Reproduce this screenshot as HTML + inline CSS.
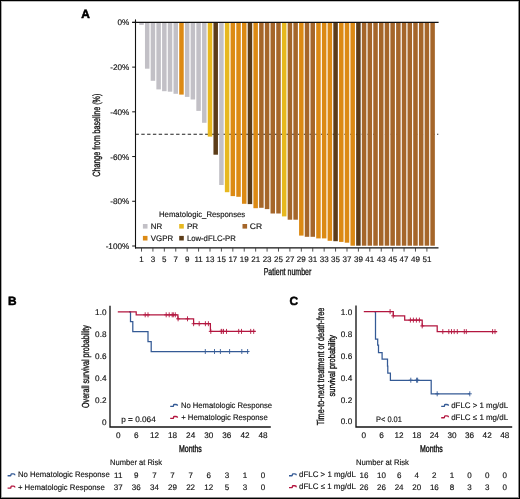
<!DOCTYPE html>
<html><head><meta charset="utf-8"><title>Figure</title>
<style>
html,body{margin:0;padding:0;background:#fff;}
body{width:520px;height:499px;overflow:hidden;}
svg{display:block;font-family:"Liberation Sans", sans-serif;}
.t{filter:grayscale(1);text-rendering:geometricPrecision;}
</style></head><body>
<svg width="520" height="499" viewBox="0 0 520 499">
<rect x="0" y="0" width="520" height="499" fill="#fff"/>
<line x1="135.5" y1="134.2" x2="438.3" y2="134.2" stroke="#222" stroke-width="1.05" stroke-dasharray="3.4 2.4"/>
<rect x="139.25" y="22.40" width="4.5" height="2.50" fill="#c2c0c6"/>
<rect x="144.96" y="22.40" width="4.5" height="46.30" fill="#c2c0c6"/>
<rect x="150.67" y="22.40" width="4.5" height="58.40" fill="#c2c0c6"/>
<rect x="156.37" y="22.40" width="4.5" height="67.00" fill="#c2c0c6"/>
<rect x="162.08" y="22.40" width="4.5" height="68.80" fill="#c2c0c6"/>
<rect x="167.79" y="22.40" width="4.5" height="69.30" fill="#c2c0c6"/>
<rect x="173.50" y="22.40" width="4.5" height="71.40" fill="#c2c0c6"/>
<rect x="179.21" y="22.40" width="4.5" height="72.20" fill="#dc8a14"/>
<rect x="184.91" y="22.40" width="4.5" height="74.50" fill="#c2c0c6"/>
<rect x="190.62" y="22.40" width="4.5" height="77.10" fill="#c2c0c6"/>
<rect x="196.33" y="22.40" width="4.5" height="88.50" fill="#c2c0c6"/>
<rect x="202.04" y="22.40" width="4.5" height="100.40" fill="#c2c0c6"/>
<rect x="207.75" y="22.40" width="4.5" height="114.20" fill="#e7b81f"/>
<rect x="213.45" y="22.40" width="4.5" height="132.30" fill="#5c3c18"/>
<rect x="219.16" y="22.40" width="4.5" height="162.60" fill="#c2c0c6"/>
<rect x="224.87" y="22.40" width="4.5" height="169.80" fill="#e7b81f"/>
<rect x="230.58" y="22.40" width="4.5" height="173.70" fill="#dc8a14"/>
<rect x="236.29" y="22.40" width="4.5" height="174.40" fill="#dc8a14"/>
<rect x="241.99" y="22.40" width="4.5" height="181.40" fill="#dc8a14"/>
<rect x="247.70" y="22.40" width="4.5" height="181.70" fill="#5c3c18"/>
<rect x="253.41" y="22.40" width="4.5" height="185.80" fill="#dc8a14"/>
<rect x="259.12" y="22.40" width="4.5" height="185.40" fill="#a5662a"/>
<rect x="264.83" y="22.40" width="4.5" height="186.70" fill="#a5662a"/>
<rect x="270.53" y="22.40" width="4.5" height="191.10" fill="#a5662a"/>
<rect x="276.24" y="22.40" width="4.5" height="191.10" fill="#a5662a"/>
<rect x="281.95" y="22.40" width="4.5" height="194.00" fill="#e7b81f"/>
<rect x="287.66" y="22.40" width="4.5" height="197.30" fill="#a5662a"/>
<rect x="293.37" y="22.40" width="4.5" height="197.30" fill="#a5662a"/>
<rect x="299.07" y="22.40" width="4.5" height="213.20" fill="#dc8a14"/>
<rect x="304.78" y="22.40" width="4.5" height="214.40" fill="#a5662a"/>
<rect x="310.49" y="22.40" width="4.5" height="214.40" fill="#a5662a"/>
<rect x="316.20" y="22.40" width="4.5" height="216.00" fill="#dc8a14"/>
<rect x="321.91" y="22.40" width="4.5" height="216.00" fill="#dc8a14"/>
<rect x="327.61" y="22.40" width="4.5" height="218.40" fill="#dc8a14"/>
<rect x="333.32" y="22.40" width="4.5" height="218.80" fill="#5c3c18"/>
<rect x="339.03" y="22.40" width="4.5" height="219.50" fill="#dc8a14"/>
<rect x="344.74" y="22.40" width="4.5" height="220.30" fill="#dc8a14"/>
<rect x="350.45" y="22.40" width="4.5" height="223.30" fill="#dc8a14"/>
<rect x="356.15" y="22.40" width="4.5" height="223.30" fill="#5c3c18"/>
<rect x="361.86" y="22.40" width="4.5" height="223.30" fill="#a5662a"/>
<rect x="367.57" y="22.40" width="4.5" height="223.30" fill="#a5662a"/>
<rect x="373.28" y="22.40" width="4.5" height="223.30" fill="#a5662a"/>
<rect x="378.99" y="22.40" width="4.5" height="223.30" fill="#a5662a"/>
<rect x="384.69" y="22.40" width="4.5" height="223.30" fill="#a5662a"/>
<rect x="390.40" y="22.40" width="4.5" height="223.30" fill="#a5662a"/>
<rect x="396.11" y="22.40" width="4.5" height="223.30" fill="#a5662a"/>
<rect x="401.82" y="22.40" width="4.5" height="223.30" fill="#a5662a"/>
<rect x="407.53" y="22.40" width="4.5" height="223.30" fill="#a5662a"/>
<rect x="413.23" y="22.40" width="4.5" height="223.30" fill="#a5662a"/>
<rect x="418.94" y="22.40" width="4.5" height="223.30" fill="#a5662a"/>
<rect x="424.65" y="22.40" width="4.5" height="223.30" fill="#a5662a"/>
<rect x="430.36" y="22.40" width="4.5" height="223.30" fill="#a5662a"/>
<line x1="132.2" y1="22.4" x2="438.6" y2="22.4" stroke="#111" stroke-width="1.1"/>
<line x1="135.5" y1="19.4" x2="135.5" y2="248.5" stroke="#111" stroke-width="1.1"/>
<line x1="135" y1="247.9" x2="438.5" y2="247.9" stroke="#111" stroke-width="1.3"/>
<line x1="132.2" y1="22.40" x2="135.5" y2="22.40" stroke="#111" stroke-width="1"/>
<line x1="132.2" y1="67.12" x2="135.5" y2="67.12" stroke="#111" stroke-width="1"/>
<line x1="132.2" y1="111.84" x2="135.5" y2="111.84" stroke="#111" stroke-width="1"/>
<line x1="132.2" y1="156.56" x2="135.5" y2="156.56" stroke="#111" stroke-width="1"/>
<line x1="132.2" y1="201.28" x2="135.5" y2="201.28" stroke="#111" stroke-width="1"/>
<line x1="132.2" y1="246.00" x2="135.5" y2="246.00" stroke="#111" stroke-width="1"/>
<line x1="141.50" y1="248" x2="141.50" y2="251.6" stroke="#333" stroke-width="0.85"/>
<line x1="152.92" y1="248" x2="152.92" y2="251.6" stroke="#333" stroke-width="0.85"/>
<line x1="164.33" y1="248" x2="164.33" y2="251.6" stroke="#333" stroke-width="0.85"/>
<line x1="175.75" y1="248" x2="175.75" y2="251.6" stroke="#333" stroke-width="0.85"/>
<line x1="187.16" y1="248" x2="187.16" y2="251.6" stroke="#333" stroke-width="0.85"/>
<line x1="198.58" y1="248" x2="198.58" y2="251.6" stroke="#333" stroke-width="0.85"/>
<line x1="210.00" y1="248" x2="210.00" y2="251.6" stroke="#333" stroke-width="0.85"/>
<line x1="221.41" y1="248" x2="221.41" y2="251.6" stroke="#333" stroke-width="0.85"/>
<line x1="232.83" y1="248" x2="232.83" y2="251.6" stroke="#333" stroke-width="0.85"/>
<line x1="244.24" y1="248" x2="244.24" y2="251.6" stroke="#333" stroke-width="0.85"/>
<line x1="255.66" y1="248" x2="255.66" y2="251.6" stroke="#333" stroke-width="0.85"/>
<line x1="267.08" y1="248" x2="267.08" y2="251.6" stroke="#333" stroke-width="0.85"/>
<line x1="278.49" y1="248" x2="278.49" y2="251.6" stroke="#333" stroke-width="0.85"/>
<line x1="289.91" y1="248" x2="289.91" y2="251.6" stroke="#333" stroke-width="0.85"/>
<line x1="301.32" y1="248" x2="301.32" y2="251.6" stroke="#333" stroke-width="0.85"/>
<line x1="312.74" y1="248" x2="312.74" y2="251.6" stroke="#333" stroke-width="0.85"/>
<line x1="324.16" y1="248" x2="324.16" y2="251.6" stroke="#333" stroke-width="0.85"/>
<line x1="335.57" y1="248" x2="335.57" y2="251.6" stroke="#333" stroke-width="0.85"/>
<line x1="346.99" y1="248" x2="346.99" y2="251.6" stroke="#333" stroke-width="0.85"/>
<line x1="358.40" y1="248" x2="358.40" y2="251.6" stroke="#333" stroke-width="0.85"/>
<line x1="369.82" y1="248" x2="369.82" y2="251.6" stroke="#333" stroke-width="0.85"/>
<line x1="381.24" y1="248" x2="381.24" y2="251.6" stroke="#333" stroke-width="0.85"/>
<line x1="392.65" y1="248" x2="392.65" y2="251.6" stroke="#333" stroke-width="0.85"/>
<line x1="404.07" y1="248" x2="404.07" y2="251.6" stroke="#333" stroke-width="0.85"/>
<line x1="415.48" y1="248" x2="415.48" y2="251.6" stroke="#333" stroke-width="0.85"/>
<line x1="426.90" y1="248" x2="426.90" y2="251.6" stroke="#333" stroke-width="0.85"/>
<rect x="142.9" y="224.0" width="4.6" height="4.6" fill="#c2c0c6"/>
<rect x="179.2" y="224.0" width="4.6" height="4.6" fill="#e7b81f"/>
<rect x="242.5" y="224.0" width="4.6" height="4.6" fill="#a5662a"/>
<rect x="142.9" y="235.9" width="4.6" height="4.6" fill="#dc8a14"/>
<rect x="179.2" y="235.9" width="4.6" height="4.6" fill="#5c3c18"/>
<path d="M110.0,305.8 V427.0 H270.8" fill="none" stroke="#151515" stroke-width="1.35"/>
<path d="M129.00,311.80 L130.50,311.80 L130.50,321.70 L132.80,321.70 L132.80,331.60 L148.00,331.60 L148.00,341.60 L151.20,341.60 L151.20,351.50 L248.60,351.50" fill="none" stroke="#345a95" stroke-width="1.25"/>
<path d="M205.30,349.00 V354.00 M203.30,351.50 H207.30" stroke="#345a95" stroke-width="0.9" fill="none"/>
<path d="M214.50,349.00 V354.00 M212.50,351.50 H216.50" stroke="#345a95" stroke-width="0.9" fill="none"/>
<path d="M220.40,349.00 V354.00 M218.40,351.50 H222.40" stroke="#345a95" stroke-width="0.9" fill="none"/>
<path d="M229.60,349.00 V354.00 M227.60,351.50 H231.60" stroke="#345a95" stroke-width="0.9" fill="none"/>
<path d="M241.80,349.00 V354.00 M239.80,351.50 H243.80" stroke="#345a95" stroke-width="0.9" fill="none"/>
<path d="M247.60,349.00 V354.00 M245.60,351.50 H249.60" stroke="#345a95" stroke-width="0.9" fill="none"/>
<path d="M117.80,311.80 L136.20,311.80 L136.20,314.80 L177.90,314.80 L177.90,318.80 L193.60,318.80 L193.60,323.70 L210.40,323.70 L210.40,331.40 L255.60,331.40" fill="none" stroke="#b3163f" stroke-width="1.25"/>
<path d="M145.20,312.30 V317.30 M143.20,314.80 H147.20" stroke="#b3163f" stroke-width="0.9" fill="none"/>
<path d="M148.00,312.30 V317.30 M146.00,314.80 H150.00" stroke="#b3163f" stroke-width="0.9" fill="none"/>
<path d="M166.20,312.30 V317.30 M164.20,314.80 H168.20" stroke="#b3163f" stroke-width="0.9" fill="none"/>
<path d="M169.20,312.30 V317.30 M167.20,314.80 H171.20" stroke="#b3163f" stroke-width="0.9" fill="none"/>
<path d="M172.20,312.30 V317.30 M170.20,314.80 H174.20" stroke="#b3163f" stroke-width="0.9" fill="none"/>
<path d="M173.30,312.30 V317.30 M171.30,314.80 H175.30" stroke="#b3163f" stroke-width="0.9" fill="none"/>
<path d="M175.30,312.30 V317.30 M173.30,314.80 H177.30" stroke="#b3163f" stroke-width="0.9" fill="none"/>
<path d="M178.10,316.30 V321.30 M176.10,318.80 H180.10" stroke="#b3163f" stroke-width="0.9" fill="none"/>
<path d="M187.50,316.30 V321.30 M185.50,318.80 H189.50" stroke="#b3163f" stroke-width="0.9" fill="none"/>
<path d="M193.60,321.20 V326.20 M191.60,323.70 H195.60" stroke="#b3163f" stroke-width="0.9" fill="none"/>
<path d="M199.20,321.20 V326.20 M197.20,323.70 H201.20" stroke="#b3163f" stroke-width="0.9" fill="none"/>
<path d="M205.40,321.20 V326.20 M203.40,323.70 H207.40" stroke="#b3163f" stroke-width="0.9" fill="none"/>
<path d="M208.40,321.20 V326.20 M206.40,323.70 H210.40" stroke="#b3163f" stroke-width="0.9" fill="none"/>
<path d="M210.80,328.90 V333.90 M208.80,331.40 H212.80" stroke="#b3163f" stroke-width="0.9" fill="none"/>
<path d="M221.20,328.90 V333.90 M219.20,331.40 H223.20" stroke="#b3163f" stroke-width="0.9" fill="none"/>
<path d="M221.80,328.90 V333.90 M219.80,331.40 H223.80" stroke="#b3163f" stroke-width="0.9" fill="none"/>
<path d="M223.50,328.90 V333.90 M221.50,331.40 H225.50" stroke="#b3163f" stroke-width="0.9" fill="none"/>
<path d="M226.50,328.90 V333.90 M224.50,331.40 H228.50" stroke="#b3163f" stroke-width="0.9" fill="none"/>
<path d="M238.70,328.90 V333.90 M236.70,331.40 H240.70" stroke="#b3163f" stroke-width="0.9" fill="none"/>
<path d="M241.50,328.90 V333.90 M239.50,331.40 H243.50" stroke="#b3163f" stroke-width="0.9" fill="none"/>
<path d="M250.70,328.90 V333.90 M248.70,331.40 H252.70" stroke="#b3163f" stroke-width="0.9" fill="none"/>
<path d="M253.70,328.90 V333.90 M251.70,331.40 H255.70" stroke="#b3163f" stroke-width="0.9" fill="none"/>
<path d="M170.20,406.35 H173.20 Q173.50,406.35 173.55,405.40 Q173.60,404.45 174.00,404.45 H176.10 Q177.50,404.45 177.50,405.85" fill="none" stroke="#345a95" stroke-width="1.35" stroke-linejoin="round"/>
<path d="M170.20,418.35 H173.20 Q173.50,418.35 173.55,417.40 Q173.60,416.45 174.00,416.45 H176.10 Q177.50,416.45 177.50,417.85" fill="none" stroke="#b3163f" stroke-width="1.35" stroke-linejoin="round"/>
<path d="M7.60,475.75 H10.60 Q10.90,475.75 10.95,474.80 Q11.00,473.85 11.40,473.85 H13.50 Q14.90,473.85 14.90,475.25" fill="none" stroke="#345a95" stroke-width="1.35" stroke-linejoin="round"/>
<path d="M7.60,488.05 H10.60 Q10.90,488.05 10.95,487.10 Q11.00,486.15 11.40,486.15 H13.50 Q14.90,486.15 14.90,487.55" fill="none" stroke="#b3163f" stroke-width="1.35" stroke-linejoin="round"/>
<path d="M356.0,305.4 V427.0 H512.2" fill="none" stroke="#151515" stroke-width="1.35"/>
<path d="M374.00,311.60 L375.50,311.60 L375.50,339.10 L377.70,339.10 L377.70,345.20 L378.50,345.20 L378.50,352.60 L382.10,352.60 L382.10,359.20 L387.50,359.20 L387.50,366.00 L387.80,366.00 L387.80,373.10 L390.40,373.10 L390.40,380.30 L431.20,380.30 L431.20,393.80 L470.00,393.80" fill="none" stroke="#345a95" stroke-width="1.25"/>
<path d="M410.80,377.70 V382.70 M408.80,380.20 H412.80" stroke="#345a95" stroke-width="0.9" fill="none"/>
<path d="M416.60,377.70 V382.70 M414.60,380.20 H418.60" stroke="#345a95" stroke-width="0.9" fill="none"/>
<path d="M417.60,377.70 V382.70 M415.60,380.20 H419.60" stroke="#345a95" stroke-width="0.9" fill="none"/>
<path d="M437.20,391.30 V396.30 M435.20,393.80 H439.20" stroke="#345a95" stroke-width="0.9" fill="none"/>
<path d="M469.80,391.30 V396.30 M467.80,393.80 H471.80" stroke="#345a95" stroke-width="0.9" fill="none"/>
<path d="M363.80,311.60 L393.30,311.60 L393.30,315.80 L404.70,315.80 L404.70,320.10 L422.20,320.10 L422.20,325.90 L437.20,325.90 L437.20,331.60 L497.20,331.60" fill="none" stroke="#b3163f" stroke-width="1.25"/>
<path d="M390.10,309.10 V314.10 M388.10,311.60 H392.10" stroke="#b3163f" stroke-width="0.9" fill="none"/>
<path d="M393.20,313.30 V318.30 M391.20,315.80 H395.20" stroke="#b3163f" stroke-width="0.9" fill="none"/>
<path d="M410.40,317.60 V322.60 M408.40,320.10 H412.40" stroke="#b3163f" stroke-width="0.9" fill="none"/>
<path d="M413.40,317.60 V322.60 M411.40,320.10 H415.40" stroke="#b3163f" stroke-width="0.9" fill="none"/>
<path d="M416.40,317.60 V322.60 M414.40,320.10 H418.40" stroke="#b3163f" stroke-width="0.9" fill="none"/>
<path d="M419.40,317.60 V322.60 M417.40,320.10 H421.40" stroke="#b3163f" stroke-width="0.9" fill="none"/>
<path d="M422.20,323.40 V328.40 M420.20,325.90 H424.20" stroke="#b3163f" stroke-width="0.9" fill="none"/>
<path d="M442.80,329.10 V334.10 M440.80,331.60 H444.80" stroke="#b3163f" stroke-width="0.9" fill="none"/>
<path d="M448.80,329.10 V334.10 M446.80,331.60 H450.80" stroke="#b3163f" stroke-width="0.9" fill="none"/>
<path d="M451.50,329.10 V334.10 M449.50,331.60 H453.50" stroke="#b3163f" stroke-width="0.9" fill="none"/>
<path d="M454.20,329.10 V334.10 M452.20,331.60 H456.20" stroke="#b3163f" stroke-width="0.9" fill="none"/>
<path d="M457.30,329.10 V334.10 M455.30,331.60 H459.30" stroke="#b3163f" stroke-width="0.9" fill="none"/>
<path d="M464.30,329.10 V334.10 M462.30,331.60 H466.30" stroke="#b3163f" stroke-width="0.9" fill="none"/>
<path d="M466.30,329.10 V334.10 M464.30,331.60 H468.30" stroke="#b3163f" stroke-width="0.9" fill="none"/>
<path d="M492.60,329.10 V334.10 M490.60,331.60 H494.60" stroke="#b3163f" stroke-width="0.9" fill="none"/>
<path d="M495.00,329.10 V334.10 M493.00,331.60 H497.00" stroke="#b3163f" stroke-width="0.9" fill="none"/>
<path d="M441.20,406.35 H444.20 Q444.50,406.35 444.55,405.40 Q444.60,404.45 445.00,404.45 H447.10 Q448.50,404.45 448.50,405.85" fill="none" stroke="#345a95" stroke-width="1.35" stroke-linejoin="round"/>
<path d="M441.20,417.75 H444.20 Q444.50,417.75 444.55,416.80 Q444.60,415.85 445.00,415.85 H447.10 Q448.50,415.85 448.50,417.25" fill="none" stroke="#b3163f" stroke-width="1.35" stroke-linejoin="round"/>
<path d="M289.00,475.75 H292.00 Q292.30,475.75 292.35,474.80 Q292.40,473.85 292.80,473.85 H294.90 Q296.30,473.85 296.30,475.25" fill="none" stroke="#345a95" stroke-width="1.35" stroke-linejoin="round"/>
<path d="M289.00,487.65 H292.00 Q292.30,487.65 292.35,486.70 Q292.40,485.75 292.80,485.75 H294.90 Q296.30,485.75 296.30,487.15" fill="none" stroke="#b3163f" stroke-width="1.35" stroke-linejoin="round"/>
<rect x="0.5" y="0.5" width="519" height="498" fill="none" stroke="#000" stroke-width="1"/>
<line x1="1.5" y1="1" x2="1.5" y2="498" stroke="#aaa" stroke-width="1"/>
<line x1="1" y1="1.5" x2="519" y2="1.5" stroke="#bebebe" stroke-width="1"/>
<line x1="518.5" y1="1" x2="518.5" y2="498" stroke="#8c8c8c" stroke-width="1"/>
<line x1="1" y1="497.5" x2="519" y2="497.5" stroke="#8c8c8c" stroke-width="1"/>
<g class="t">
<text x="129.30" y="25.35" font-size="8.2" fill="#111" stroke="#111" stroke-width="0.15" text-anchor="end" >0%</text>
<text x="129.30" y="70.07" font-size="8.2" fill="#111" stroke="#111" stroke-width="0.15" text-anchor="end" >-20%</text>
<text x="129.30" y="114.79" font-size="8.2" fill="#111" stroke="#111" stroke-width="0.15" text-anchor="end" >-40%</text>
<text x="129.30" y="159.51" font-size="8.2" fill="#111" stroke="#111" stroke-width="0.15" text-anchor="end" >-60%</text>
<text x="129.30" y="204.23" font-size="8.2" fill="#111" stroke="#111" stroke-width="0.15" text-anchor="end" >-80%</text>
<text x="129.30" y="248.95" font-size="8.2" fill="#111" stroke="#111" stroke-width="0.15" text-anchor="end" >-100%</text>
<text x="141.50" y="261.80" font-size="8.0" fill="#111" stroke="#111" stroke-width="0.15" text-anchor="middle" >1</text>
<text x="152.92" y="261.80" font-size="8.0" fill="#111" stroke="#111" stroke-width="0.15" text-anchor="middle" >3</text>
<text x="164.33" y="261.80" font-size="8.0" fill="#111" stroke="#111" stroke-width="0.15" text-anchor="middle" >5</text>
<text x="175.75" y="261.80" font-size="8.0" fill="#111" stroke="#111" stroke-width="0.15" text-anchor="middle" >7</text>
<text x="187.16" y="261.80" font-size="8.0" fill="#111" stroke="#111" stroke-width="0.15" text-anchor="middle" >9</text>
<text x="198.58" y="261.80" font-size="8.0" fill="#111" stroke="#111" stroke-width="0.15" text-anchor="middle" >11</text>
<text x="210.00" y="261.80" font-size="8.0" fill="#111" stroke="#111" stroke-width="0.15" text-anchor="middle" >13</text>
<text x="221.41" y="261.80" font-size="8.0" fill="#111" stroke="#111" stroke-width="0.15" text-anchor="middle" >15</text>
<text x="232.83" y="261.80" font-size="8.0" fill="#111" stroke="#111" stroke-width="0.15" text-anchor="middle" >17</text>
<text x="244.24" y="261.80" font-size="8.0" fill="#111" stroke="#111" stroke-width="0.15" text-anchor="middle" >19</text>
<text x="255.66" y="261.80" font-size="8.0" fill="#111" stroke="#111" stroke-width="0.15" text-anchor="middle" >21</text>
<text x="267.08" y="261.80" font-size="8.0" fill="#111" stroke="#111" stroke-width="0.15" text-anchor="middle" >23</text>
<text x="278.49" y="261.80" font-size="8.0" fill="#111" stroke="#111" stroke-width="0.15" text-anchor="middle" >25</text>
<text x="289.91" y="261.80" font-size="8.0" fill="#111" stroke="#111" stroke-width="0.15" text-anchor="middle" >27</text>
<text x="301.32" y="261.80" font-size="8.0" fill="#111" stroke="#111" stroke-width="0.15" text-anchor="middle" >29</text>
<text x="312.74" y="261.80" font-size="8.0" fill="#111" stroke="#111" stroke-width="0.15" text-anchor="middle" >31</text>
<text x="324.16" y="261.80" font-size="8.0" fill="#111" stroke="#111" stroke-width="0.15" text-anchor="middle" >33</text>
<text x="335.57" y="261.80" font-size="8.0" fill="#111" stroke="#111" stroke-width="0.15" text-anchor="middle" >35</text>
<text x="346.99" y="261.80" font-size="8.0" fill="#111" stroke="#111" stroke-width="0.15" text-anchor="middle" >37</text>
<text x="358.40" y="261.80" font-size="8.0" fill="#111" stroke="#111" stroke-width="0.15" text-anchor="middle" >39</text>
<text x="369.82" y="261.80" font-size="8.0" fill="#111" stroke="#111" stroke-width="0.15" text-anchor="middle" >41</text>
<text x="381.24" y="261.80" font-size="8.0" fill="#111" stroke="#111" stroke-width="0.15" text-anchor="middle" >43</text>
<text x="392.65" y="261.80" font-size="8.0" fill="#111" stroke="#111" stroke-width="0.15" text-anchor="middle" >45</text>
<text x="404.07" y="261.80" font-size="8.0" fill="#111" stroke="#111" stroke-width="0.15" text-anchor="middle" >47</text>
<text x="415.48" y="261.80" font-size="8.0" fill="#111" stroke="#111" stroke-width="0.15" text-anchor="middle" >49</text>
<text x="426.90" y="261.80" font-size="8.0" fill="#111" stroke="#111" stroke-width="0.15" text-anchor="middle" >51</text>
<text x="81.30" y="17.60" font-size="11.9" fill="#000" stroke="#000" stroke-width="0.55" font-weight="bold" >A</text>
<text x="263.70" y="275.40" font-size="9.9" fill="#111" stroke="#111" stroke-width="0.35" textLength="47.60" lengthAdjust="spacingAndGlyphs" >Patient number</text>
<text x="99.60" y="176.70" font-size="10.4" fill="#111" stroke="#111" stroke-width="0.35" textLength="83.00" lengthAdjust="spacingAndGlyphs" transform="rotate(-90 99.60 176.70)" >Change from baseline (%)</text>
<text x="159.00" y="216.60" font-size="8.0" fill="#111" stroke="#111" stroke-width="0.15" textLength="86.20" lengthAdjust="spacingAndGlyphs" >Hematologic_Responses</text>
<text x="150.80" y="229.00" font-size="8.0" fill="#111" stroke="#111" stroke-width="0.15" textLength="11.50" lengthAdjust="spacingAndGlyphs" >NR</text>
<text x="186.90" y="229.00" font-size="8.0" fill="#111" stroke="#111" stroke-width="0.15" textLength="11.20" lengthAdjust="spacingAndGlyphs" >PR</text>
<text x="249.80" y="229.00" font-size="8.0" fill="#111" stroke="#111" stroke-width="0.15" textLength="12.30" lengthAdjust="spacingAndGlyphs" >CR</text>
<text x="150.80" y="240.90" font-size="8.0" fill="#111" stroke="#111" stroke-width="0.15" textLength="22.30" lengthAdjust="spacingAndGlyphs" >VGPR</text>
<text x="186.90" y="240.90" font-size="8.0" fill="#111" stroke="#111" stroke-width="0.15" textLength="48.90" lengthAdjust="spacingAndGlyphs" >Low-dFLC-PR</text>
<text x="7.90" y="304.90" font-size="11.9" fill="#000" stroke="#000" stroke-width="0.5" font-weight="bold" >B</text>
<text x="106.50" y="315.35" font-size="8.2" fill="#111" stroke="#111" stroke-width="0.15" text-anchor="end" >1.0</text>
<text x="106.50" y="337.23" font-size="8.2" fill="#111" stroke="#111" stroke-width="0.15" text-anchor="end" >0.8</text>
<text x="106.50" y="359.11" font-size="8.2" fill="#111" stroke="#111" stroke-width="0.15" text-anchor="end" >0.6</text>
<text x="106.50" y="380.99" font-size="8.2" fill="#111" stroke="#111" stroke-width="0.15" text-anchor="end" >0.4</text>
<text x="106.50" y="402.87" font-size="8.2" fill="#111" stroke="#111" stroke-width="0.15" text-anchor="end" >0.2</text>
<text x="106.50" y="424.75" font-size="8.2" fill="#111" stroke="#111" stroke-width="0.15" text-anchor="end" >0</text>
<text x="118.20" y="438.20" font-size="8.2" fill="#111" stroke="#111" stroke-width="0.15" text-anchor="middle" >0</text>
<text x="136.31" y="438.20" font-size="8.2" fill="#111" stroke="#111" stroke-width="0.15" text-anchor="middle" >6</text>
<text x="154.43" y="438.20" font-size="8.2" fill="#111" stroke="#111" stroke-width="0.15" text-anchor="middle" >12</text>
<text x="172.54" y="438.20" font-size="8.2" fill="#111" stroke="#111" stroke-width="0.15" text-anchor="middle" >18</text>
<text x="190.66" y="438.20" font-size="8.2" fill="#111" stroke="#111" stroke-width="0.15" text-anchor="middle" >24</text>
<text x="208.77" y="438.20" font-size="8.2" fill="#111" stroke="#111" stroke-width="0.15" text-anchor="middle" >30</text>
<text x="226.88" y="438.20" font-size="8.2" fill="#111" stroke="#111" stroke-width="0.15" text-anchor="middle" >36</text>
<text x="245.00" y="438.20" font-size="8.2" fill="#111" stroke="#111" stroke-width="0.15" text-anchor="middle" >42</text>
<text x="263.11" y="438.20" font-size="8.2" fill="#111" stroke="#111" stroke-width="0.15" text-anchor="middle" >48</text>
<text x="179.00" y="452.20" font-size="9.85" fill="#111" stroke="#111" stroke-width="0.4" textLength="22.80" lengthAdjust="spacingAndGlyphs" >Months</text>
<text x="88.90" y="407.90" font-size="10.2" fill="#111" stroke="#111" stroke-width="0.35" textLength="82.80" lengthAdjust="spacingAndGlyphs" transform="rotate(-90 88.90 407.90)" >Overall survival probability</text>
<text x="121.20" y="421.90" font-size="8.0" fill="#111" stroke="#111" stroke-width="0.15" textLength="34.60" lengthAdjust="spacingAndGlyphs" >p = 0.064</text>
<text x="180.90" y="407.70" font-size="8.0" fill="#111" stroke="#111" stroke-width="0.15" textLength="91.20" lengthAdjust="spacingAndGlyphs" >No Hematologic Response</text>
<text x="181.20" y="420.00" font-size="8.0" fill="#111" stroke="#111" stroke-width="0.15" textLength="86.60" lengthAdjust="spacingAndGlyphs" >+ Hematologic Response</text>
<text x="110.10" y="465.10" font-size="8.0" fill="#111" stroke="#111" stroke-width="0.15" textLength="52.00" lengthAdjust="spacingAndGlyphs" >Number at Risk</text>
<text x="17.90" y="477.40" font-size="8.0" fill="#111" stroke="#111" stroke-width="0.15" textLength="91.90" lengthAdjust="spacingAndGlyphs" >No Hematologic Response</text>
<text x="17.90" y="489.70" font-size="8.0" fill="#111" stroke="#111" stroke-width="0.15" textLength="86.90" lengthAdjust="spacingAndGlyphs" >+ Hematologic Response</text>
<text x="118.20" y="477.70" font-size="8.0" fill="#111" stroke="#111" stroke-width="0.15" text-anchor="middle" >11</text>
<text x="118.20" y="489.90" font-size="8.0" fill="#111" stroke="#111" stroke-width="0.15" text-anchor="middle" >37</text>
<text x="136.31" y="477.70" font-size="8.0" fill="#111" stroke="#111" stroke-width="0.15" text-anchor="middle" >9</text>
<text x="136.31" y="489.90" font-size="8.0" fill="#111" stroke="#111" stroke-width="0.15" text-anchor="middle" >36</text>
<text x="154.42" y="477.70" font-size="8.0" fill="#111" stroke="#111" stroke-width="0.15" text-anchor="middle" >7</text>
<text x="154.42" y="489.90" font-size="8.0" fill="#111" stroke="#111" stroke-width="0.15" text-anchor="middle" >34</text>
<text x="172.53" y="477.70" font-size="8.0" fill="#111" stroke="#111" stroke-width="0.15" text-anchor="middle" >7</text>
<text x="172.53" y="489.90" font-size="8.0" fill="#111" stroke="#111" stroke-width="0.15" text-anchor="middle" >29</text>
<text x="190.64" y="477.70" font-size="8.0" fill="#111" stroke="#111" stroke-width="0.15" text-anchor="middle" >7</text>
<text x="190.64" y="489.90" font-size="8.0" fill="#111" stroke="#111" stroke-width="0.15" text-anchor="middle" >22</text>
<text x="208.75" y="477.70" font-size="8.0" fill="#111" stroke="#111" stroke-width="0.15" text-anchor="middle" >6</text>
<text x="208.75" y="489.90" font-size="8.0" fill="#111" stroke="#111" stroke-width="0.15" text-anchor="middle" >12</text>
<text x="226.86" y="477.70" font-size="8.0" fill="#111" stroke="#111" stroke-width="0.15" text-anchor="middle" >3</text>
<text x="226.86" y="489.90" font-size="8.0" fill="#111" stroke="#111" stroke-width="0.15" text-anchor="middle" >5</text>
<text x="244.97" y="477.70" font-size="8.0" fill="#111" stroke="#111" stroke-width="0.15" text-anchor="middle" >1</text>
<text x="244.97" y="489.90" font-size="8.0" fill="#111" stroke="#111" stroke-width="0.15" text-anchor="middle" >3</text>
<text x="263.08" y="477.70" font-size="8.0" fill="#111" stroke="#111" stroke-width="0.15" text-anchor="middle" >0</text>
<text x="263.08" y="489.90" font-size="8.0" fill="#111" stroke="#111" stroke-width="0.15" text-anchor="middle" >0</text>
<text x="289.60" y="305.10" font-size="11.9" fill="#000" stroke="#000" stroke-width="0.5" font-weight="bold" >C</text>
<text x="352.20" y="315.15" font-size="8.2" fill="#111" stroke="#111" stroke-width="0.15" text-anchor="end" >1.0</text>
<text x="352.20" y="336.99" font-size="8.2" fill="#111" stroke="#111" stroke-width="0.15" text-anchor="end" >0.8</text>
<text x="352.20" y="358.83" font-size="8.2" fill="#111" stroke="#111" stroke-width="0.15" text-anchor="end" >0.6</text>
<text x="352.20" y="380.67" font-size="8.2" fill="#111" stroke="#111" stroke-width="0.15" text-anchor="end" >0.4</text>
<text x="352.20" y="402.51" font-size="8.2" fill="#111" stroke="#111" stroke-width="0.15" text-anchor="end" >0.2</text>
<text x="352.20" y="424.35" font-size="8.2" fill="#111" stroke="#111" stroke-width="0.15" text-anchor="end" >0.0</text>
<text x="363.90" y="438.00" font-size="8.2" fill="#111" stroke="#111" stroke-width="0.15" text-anchor="middle" >0</text>
<text x="381.51" y="438.00" font-size="8.2" fill="#111" stroke="#111" stroke-width="0.15" text-anchor="middle" >6</text>
<text x="399.12" y="438.00" font-size="8.2" fill="#111" stroke="#111" stroke-width="0.15" text-anchor="middle" >12</text>
<text x="416.73" y="438.00" font-size="8.2" fill="#111" stroke="#111" stroke-width="0.15" text-anchor="middle" >18</text>
<text x="434.34" y="438.00" font-size="8.2" fill="#111" stroke="#111" stroke-width="0.15" text-anchor="middle" >24</text>
<text x="451.95" y="438.00" font-size="8.2" fill="#111" stroke="#111" stroke-width="0.15" text-anchor="middle" >30</text>
<text x="469.56" y="438.00" font-size="8.2" fill="#111" stroke="#111" stroke-width="0.15" text-anchor="middle" >36</text>
<text x="487.17" y="438.00" font-size="8.2" fill="#111" stroke="#111" stroke-width="0.15" text-anchor="middle" >42</text>
<text x="504.78" y="438.00" font-size="8.2" fill="#111" stroke="#111" stroke-width="0.15" text-anchor="middle" >48</text>
<text x="420.00" y="452.20" font-size="9.85" fill="#111" stroke="#111" stroke-width="0.4" textLength="22.80" lengthAdjust="spacingAndGlyphs" >Months</text>
<text x="323.60" y="425.20" font-size="10.2" fill="#111" stroke="#111" stroke-width="0.35" textLength="117.60" lengthAdjust="spacingAndGlyphs" transform="rotate(-90 323.60 425.20)" >Time-to-next treatment or death-free</text>
<text x="335.00" y="396.40" font-size="9.4" fill="#111" stroke="#111" stroke-width="0.35" textLength="61.40" lengthAdjust="spacingAndGlyphs" transform="rotate(-90 335.00 396.40)" >survival probability</text>
<text x="376.00" y="421.90" font-size="8.0" fill="#111" stroke="#111" stroke-width="0.15" textLength="25.90" lengthAdjust="spacingAndGlyphs" >P&lt; 0.01</text>
<text x="451.20" y="408.10" font-size="8.0" fill="#111" stroke="#111" stroke-width="0.15" textLength="56.90" lengthAdjust="spacingAndGlyphs" >dFLC &gt; 1 mg/dL</text>
<text x="451.20" y="419.60" font-size="8.0" fill="#111" stroke="#111" stroke-width="0.15" textLength="56.90" lengthAdjust="spacingAndGlyphs" >dFLC ≤ 1 mg/dL</text>
<text x="355.90" y="464.50" font-size="8.0" fill="#111" stroke="#111" stroke-width="0.15" textLength="53.00" lengthAdjust="spacingAndGlyphs" >Number at Risk</text>
<text x="299.10" y="477.10" font-size="8.0" fill="#111" stroke="#111" stroke-width="0.15" textLength="56.80" lengthAdjust="spacingAndGlyphs" >dFLC &gt; 1 mg/dL</text>
<text x="299.10" y="489.30" font-size="8.0" fill="#111" stroke="#111" stroke-width="0.15" textLength="56.80" lengthAdjust="spacingAndGlyphs" >dFLC ≤ 1 mg/dL</text>
<text x="363.90" y="477.50" font-size="8.0" fill="#111" stroke="#111" stroke-width="0.15" text-anchor="middle" >16</text>
<text x="363.90" y="489.70" font-size="8.0" fill="#111" stroke="#111" stroke-width="0.15" text-anchor="middle" >26</text>
<text x="381.51" y="477.50" font-size="8.0" fill="#111" stroke="#111" stroke-width="0.15" text-anchor="middle" >10</text>
<text x="381.51" y="489.70" font-size="8.0" fill="#111" stroke="#111" stroke-width="0.15" text-anchor="middle" >26</text>
<text x="399.12" y="477.50" font-size="8.0" fill="#111" stroke="#111" stroke-width="0.15" text-anchor="middle" >6</text>
<text x="399.12" y="489.70" font-size="8.0" fill="#111" stroke="#111" stroke-width="0.15" text-anchor="middle" >24</text>
<text x="416.73" y="477.50" font-size="8.0" fill="#111" stroke="#111" stroke-width="0.15" text-anchor="middle" >4</text>
<text x="416.73" y="489.70" font-size="8.0" fill="#111" stroke="#111" stroke-width="0.15" text-anchor="middle" >20</text>
<text x="434.34" y="477.50" font-size="8.0" fill="#111" stroke="#111" stroke-width="0.15" text-anchor="middle" >2</text>
<text x="434.34" y="489.70" font-size="8.0" fill="#111" stroke="#111" stroke-width="0.15" text-anchor="middle" >16</text>
<text x="451.95" y="477.50" font-size="8.0" fill="#111" stroke="#111" stroke-width="0.15" text-anchor="middle" >1</text>
<text x="451.95" y="489.70" font-size="8.0" fill="#111" stroke="#111" stroke-width="0.15" text-anchor="middle" >8</text>
<text x="469.56" y="477.50" font-size="8.0" fill="#111" stroke="#111" stroke-width="0.15" text-anchor="middle" >0</text>
<text x="469.56" y="489.70" font-size="8.0" fill="#111" stroke="#111" stroke-width="0.15" text-anchor="middle" >3</text>
<text x="487.17" y="477.50" font-size="8.0" fill="#111" stroke="#111" stroke-width="0.15" text-anchor="middle" >0</text>
<text x="487.17" y="489.70" font-size="8.0" fill="#111" stroke="#111" stroke-width="0.15" text-anchor="middle" >3</text>
<text x="504.78" y="477.50" font-size="8.0" fill="#111" stroke="#111" stroke-width="0.15" text-anchor="middle" >0</text>
<text x="504.78" y="489.70" font-size="8.0" fill="#111" stroke="#111" stroke-width="0.15" text-anchor="middle" >0</text>
</g>
</svg>
</body></html>
